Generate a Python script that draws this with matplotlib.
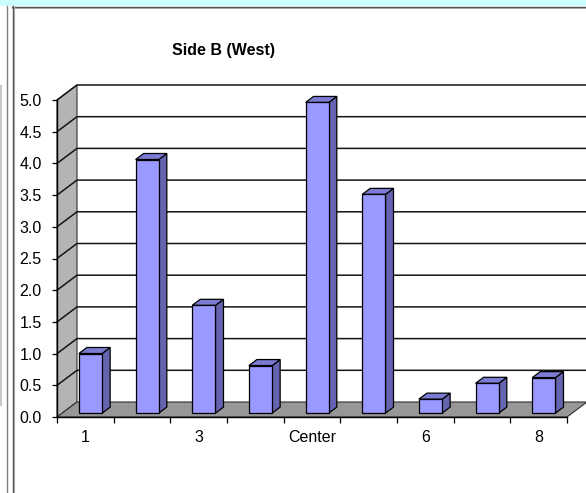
import matplotlib
matplotlib.use("Agg")
import matplotlib.pyplot as plt
from matplotlib.patches import Polygon, Rectangle
from matplotlib.lines import Line2D
import numpy as np

# ---- data ----
categories = ["1", "2", "3", "4", "Center", "5", "6", "7", "8"]
values = [0.94, 4.0, 1.7, 0.75, 4.9, 3.45, 0.22, 0.47, 0.56]
y_ticks = [0.0, 0.5, 1.0, 1.5, 2.0, 2.5, 3.0, 3.5, 4.0, 4.5, 5.0]
title = "Side B (West)"

plt.rcParams["font.family"] = ["Liberation Sans", "DejaVu Sans"]

W, H = 586, 493
fig = plt.figure(figsize=(W / 100, H / 100), dpi=100)
fig.patch.set_facecolor("white")

def fx(x):
    return x / W

def fy(y):
    return 1 - y / H

# ---- screen frame decorations ----
fig.add_artist(Rectangle((0, fy(6)), 1, 6 / H, transform=fig.transFigure,
                         facecolor="#ccffff", edgecolor="none", zorder=0))
fig.add_artist(Line2D([fx(12), 1], [fy(6.5), fy(6.5)], transform=fig.transFigure,
                      color="#505050", lw=1.0))
fig.add_artist(Line2D([fx(12), 1], [fy(7.5), fy(7.5)], transform=fig.transFigure,
                      color="#a8a8a8", lw=0.8))
fig.add_artist(Line2D([fx(6.5), fx(6.5)], [fy(6), 0], transform=fig.transFigure,
                      color="#808080", lw=1.0))
fig.add_artist(Line2D([fx(12.5), fx(12.5)], [fy(6), 0], transform=fig.transFigure,
                      color="#505050", lw=1.0))
fig.add_artist(Line2D([fx(13.5), fx(13.5)], [fy(7), 0], transform=fig.transFigure,
                      color="#a8a8a8", lw=0.8))
fig.add_artist(Line2D([fx(1), fx(1)], [fy(86), fy(405)], transform=fig.transFigure,
                      color="#c8c8c8", lw=1.5))

# ---- axes (front plane of the 3D box) ----
left_px, right_px, top_px, bot_px = 57, 567, 100, 417
ax = fig.add_axes([fx(left_px), fy(bot_px), (right_px - left_px) / W, (bot_px - top_px) / H])
n = len(categories)
ymax = y_ticks[-1]
ax.set_xlim(-0.5, n - 0.5)
ax.set_ylim(0, ymax)
ax.patch.set_visible(False)

# depth vector (full depth) in data units
DX = 20 / ((right_px - left_px) / n)
DY = 15 / ((bot_px - top_px) / ymax)
x0 = -0.5
x1 = n - 0.5
xfar = x1 + DX + 2

# walls and floor
left_wall = Polygon([(x0, 0), (x0 + DX, DY), (x0 + DX, ymax + DY), (x0, ymax)],
                    closed=True, facecolor="#b4b4b4", edgecolor="#303030", lw=0.8,
                    clip_on=False, zorder=0.5)
back_wall = Polygon([(x0 + DX, DY), (xfar, DY), (xfar, ymax + DY), (x0 + DX, ymax + DY)],
                    closed=True, facecolor="white", edgecolor="none",
                    clip_on=False, zorder=0.4)
floor = Polygon([(x0, 0), (x1, 0), (x1 + DX, DY), (x0 + DX, DY)],
                closed=True, facecolor="#979797", edgecolor="#303030", lw=0.8,
                clip_on=False, zorder=0.6)
for p in (back_wall, left_wall, floor):
    ax.add_patch(p)

# gridlines (left wall diagonal + back wall horizontal)
for t in y_ticks[1:]:
    ax.plot([x0, x0 + DX, xfar], [t, t + DY, t + DY], color="#141414", lw=1.1,
            clip_on=False, zorder=0.7, solid_capstyle="butt")

# bars
bw = 0.41
d0, d1 = 0.26, 0.66
front_c, side_c, top_c = "#9999ff", "#6464b0", "#7b7bd2"
for i, v in enumerate(values):
    ox0, oy0 = d0 * DX, d0 * DY
    ox1, oy1 = d1 * DX, d1 * DY
    l, r = i - bw / 2 + ox0, i + bw / 2 + ox0
    b, tp = oy0, v + oy0
    front = Polygon([(l, b), (r, b), (r, tp), (l, tp)], closed=True,
                    facecolor=front_c, edgecolor="black", lw=0.9, zorder=3, clip_on=False)
    side = Polygon([(r, b), (r + ox1 - ox0, b + oy1 - oy0), (r + ox1 - ox0, tp + oy1 - oy0), (r, tp)],
                   closed=True, facecolor=side_c, edgecolor="black", lw=0.9, zorder=3, clip_on=False)
    top = Polygon([(l, tp), (r, tp), (r + ox1 - ox0, tp + oy1 - oy0), (l + ox1 - ox0, tp + oy1 - oy0)],
                  closed=True, facecolor=top_c, edgecolor="black", lw=0.9, zorder=3, clip_on=False)
    for p in (side, top, front):
        ax.add_patch(p)

# spines / ticks
for s in ("top", "right"):
    ax.spines[s].set_visible(False)
for s in ("left", "bottom"):
    ax.spines[s].set_color("black")
    ax.spines[s].set_linewidth(1.0)
    ax.spines[s].set_zorder(4)

ax.set_yticks(y_ticks)
ax.set_yticklabels([f"{t:.1f}" for t in y_ticks])
ax.tick_params(axis="y", direction="out", length=3.5, width=0.9, pad=7.5,
               labelsize=11.5, colors="black")

ax.set_xticks(np.arange(-0.5, n, 1.0))
ax.set_xticklabels([])
ax.set_xticks(np.arange(n), minor=True)
ax.set_xticklabels([c if i % 2 == 0 else "" for i, c in enumerate(categories)], minor=True)
ax.tick_params(axis="x", which="major", direction="out", length=4, width=0.9)
ax.tick_params(axis="x", which="minor", length=0, pad=9.5, labelsize=11.5)

fig.text(fx(223), fy(51), title, ha="center", va="center", fontsize=11.5, fontweight="bold")

fig.savefig("out.png", dpi=100)
